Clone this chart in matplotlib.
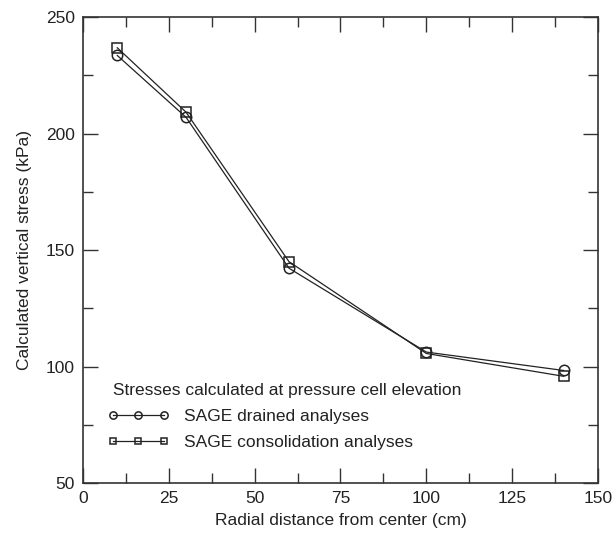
import matplotlib
matplotlib.use('Agg')
import matplotlib.pyplot as plt
from matplotlib.ticker import MultipleLocator

plt.rcParams['font.family'] = ['Liberation Sans', 'DejaVu Sans']

radial_distance = [10, 30, 60, 100, 140]
drained_stress = [233.5, 207.0, 142.2, 106.2, 98.3]
consolidation_stress = [236.8, 209.2, 145.0, 105.6, 95.8]

legend_title = ' Stresses calculated at pressure cell elevation'
drained_label = 'SAGE drained analyses'
consolidation_label = 'SAGE consolidation analyses'


def plot():
    fig = plt.figure(figsize=(6.16, 5.33), dpi=100)
    ax = fig.add_axes([0.1347, 0.0938, 0.8361, 0.8742])

    line_color = '#222222'
    ax.plot(radial_distance, drained_stress, color=line_color, lw=0.9,
            marker='o', ms=7.5, mfc='none', mec=line_color, mew=1.1,
            label=drained_label)
    ax.plot(radial_distance, consolidation_stress, color=line_color, lw=0.9,
            marker='s', ms=7, mfc='none', mec=line_color, mew=1.1,
            label=consolidation_label)

    ax.set_xlim(0, 150)
    ax.set_ylim(50, 250)
    ax.xaxis.set_major_locator(MultipleLocator(25))
    ax.xaxis.set_minor_locator(MultipleLocator(12.5))
    ax.yaxis.set_major_locator(MultipleLocator(50))
    ax.yaxis.set_minor_locator(MultipleLocator(25))
    ax.tick_params(which='both', direction='in', top=True, right=True,
                   labelsize=12.5, colors='#333333', labelcolor='#222222',
                   pad=6)
    ax.tick_params(which='major', length=11, width=1)
    ax.tick_params(which='minor', length=7, width=1)
    for spine in ax.spines.values():
        spine.set_color('#333333')
        spine.set_linewidth(1.2)

    ax.set_xlabel('Radial distance from center (cm)', fontsize=12.5,
                  color='#222222', labelpad=5)
    ax.set_ylabel('Calculated vertical stress (kPa)', fontsize=12.5,
                  color='#222222', labelpad=10)

    leg = ax.legend(title=legend_title, loc='lower left',
                    bbox_to_anchor=(0.035, 0.055), frameon=False,
                    numpoints=3, handlelength=3.5, handletextpad=0.9,
                    markerscale=0.7,
                    fontsize=12.5, title_fontsize=12.5, borderaxespad=0,
                    labelspacing=0.65, alignment='left')
    for text in leg.get_texts():
        text.set_color('#222222')
    leg.get_title().set_color('#222222')

    fig.savefig('out.png', dpi=100)


plot()
